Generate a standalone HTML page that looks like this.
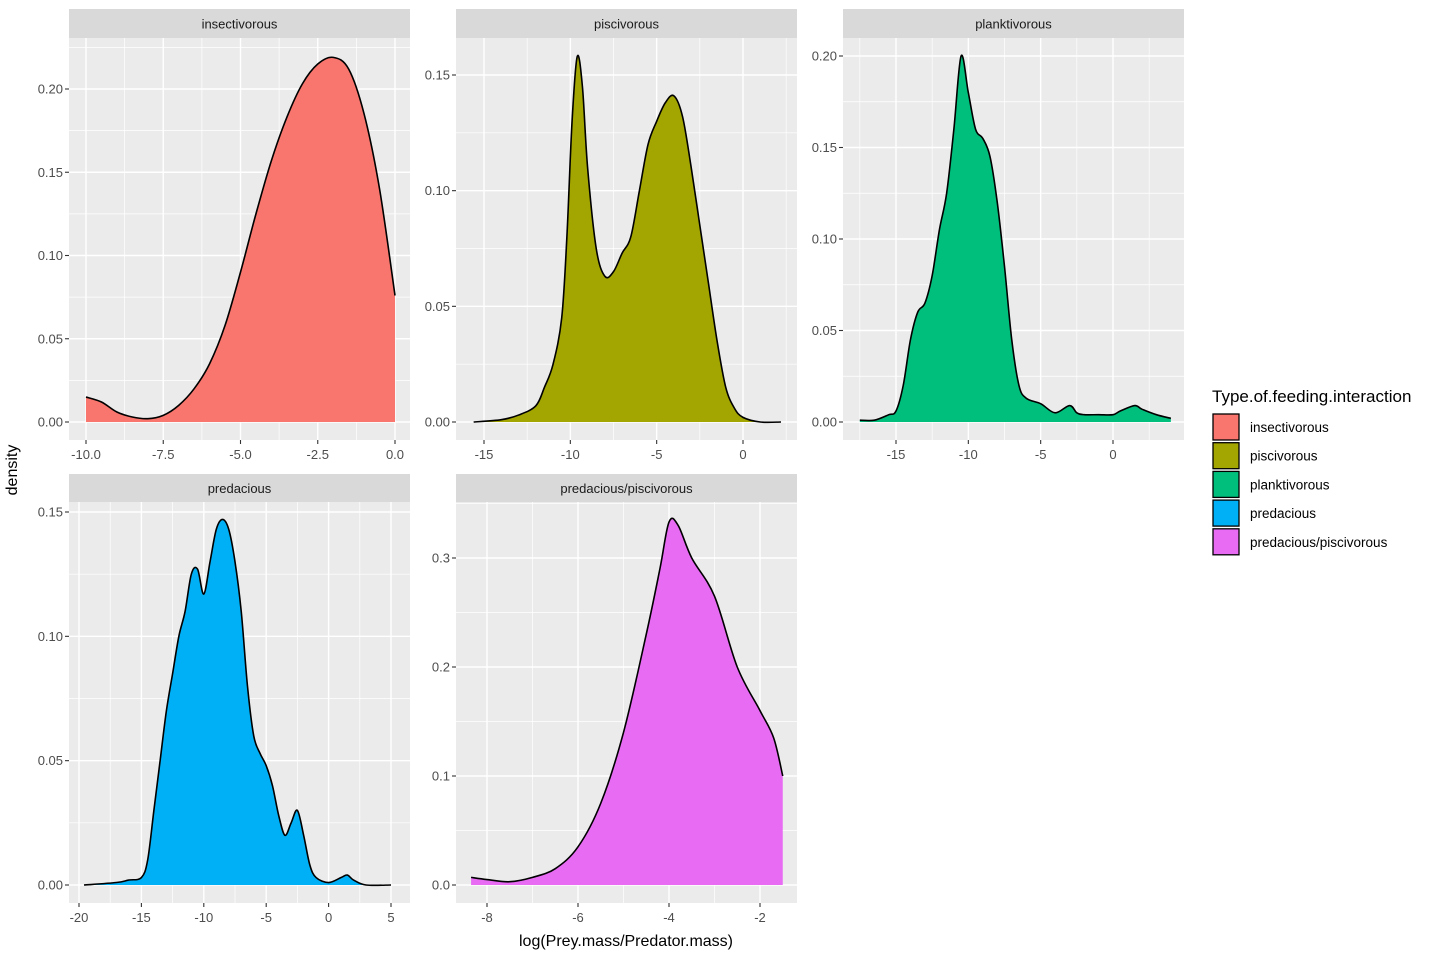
<!DOCTYPE html>
<html><head><meta charset="utf-8">
<style>
body{margin:0;background:#fff;font-family:"Liberation Sans",sans-serif;}
svg text{font-family:"Liberation Sans",sans-serif;}
</style></head>
<body>
<svg id="chart" width="1440" height="960" xmlns="http://www.w3.org/2000/svg">
<text x="17" y="470" font-size="16" fill="#000" text-anchor="middle" transform="rotate(-90 17 470)">density</text>
<text x="626" y="946" font-size="16" fill="#000" text-anchor="middle">log(Prey.mass/Predator.mass)</text>
</svg>
<script>
const categories=["insectivorous","piscivorous","planktivorous","predacious","predacious/piscivorous"];
const colors=["#F8766D","#A3A500","#00BF7D","#00B0F6","#E76BF3"];
const xs1=[-10,-9.5,-9,-8.5,-8,-7.5,-7,-6.5,-6,-5.5,-5,-4.5,-4,-3.5,-3,-2.5,-2,-1.5,-1,-0.5,0];
const ys1=[0.015,0.012,0.006,0.003,0.002,0.004,0.01,0.02,0.035,0.058,0.09,0.125,0.157,0.183,0.203,0.215,0.219,0.212,0.185,0.14,0.076];
const xs2=[-15.6,-14,-13,-12,-11.5,-11,-10.5,-10.2,-9.9,-9.6,-9.3,-9,-8.5,-8,-7.5,-7,-6.5,-6,-5.5,-5,-4.5,-4,-3.5,-3,-2.5,-2,-1.5,-1,-0.5,0,1,2.2];
const ys2=[0,0.001,0.003,0.007,0.015,0.025,0.045,0.08,0.13,0.158,0.145,0.11,0.075,0.063,0.065,0.073,0.08,0.1,0.12,0.13,0.138,0.141,0.132,0.11,0.085,0.06,0.035,0.015,0.006,0.002,0,0];
const xs3=[-17.5,-16.5,-15.5,-15,-14.5,-14,-13.5,-13,-12.5,-12,-11.5,-11,-10.5,-10,-9.5,-9,-8.5,-8,-7.5,-7,-6.5,-6,-5,-4,-3,-2.5,-2,-1,0,0.5,1.5,2,3,4];
const ys3=[0.001,0.001,0.004,0.006,0.02,0.045,0.06,0.065,0.08,0.105,0.125,0.16,0.2,0.18,0.16,0.155,0.145,0.12,0.085,0.045,0.02,0.013,0.01,0.005,0.009,0.005,0.004,0.004,0.004,0.006,0.009,0.007,0.004,0.002];
const xs4=[-19.6,-17,-16,-15,-14.5,-14,-13.5,-13,-12.5,-12,-11.5,-11,-10.5,-10,-9.5,-9,-8.5,-8,-7.5,-7,-6.5,-6,-5.5,-5,-4.5,-4,-3.5,-3,-2.5,-2,-1.5,-1,0,1,1.5,2,3,5];
const ys4=[0,0.001,0.002,0.003,0.01,0.03,0.05,0.07,0.085,0.1,0.11,0.125,0.127,0.117,0.13,0.143,0.147,0.143,0.13,0.11,0.08,0.06,0.053,0.048,0.04,0.028,0.02,0.025,0.03,0.02,0.008,0.003,0.001,0.003,0.004,0.002,0,0];
const xs5=[-8.35,-8,-7.5,-7,-6.5,-6,-5.5,-5,-4.5,-4.2,-4,-3.8,-3.5,-3,-2.5,-2,-1.7,-1.5];
const ys5=[0.007,0.005,0.003,0.007,0.015,0.035,0.075,0.14,0.23,0.29,0.333,0.33,0.3,0.265,0.2,0.16,0.135,0.1];
const xticks=[[-10,-7.5,-5,-2.5,0],[-15,-10,-5,0],[-15,-10,-5,0],[-20,-15,-10,-5,0,5],[-8,-6,-4,-2]];
const xlabels=[["-10.0","-7.5","-5.0","-2.5","0.0"],["-15","-10","-5","0"],["-15","-10","-5","0"],["-20","-15","-10","-5","0","5"],["-8","-6","-4","-2"]];
const yticks=[[0,0.05,0.1,0.15,0.2],[0,0.05,0.1,0.15],[0,0.05,0.1,0.15,0.2],[0,0.05,0.1,0.15],[0,0.1,0.2,0.3]];
const ylabels=[["0.00","0.05","0.10","0.15","0.20"],["0.00","0.05","0.10","0.15"],["0.00","0.05","0.10","0.15","0.20"],["0.00","0.05","0.10","0.15"],["0.0","0.1","0.2","0.3"]];
const XS=[xs1,xs2,xs3,xs4,xs5], YS=[ys1,ys2,ys3,ys4,ys5];
// panel geometry: [left,right,stripTop,plotTop,plotBottom, xA,pxA,xB,pxB, yB,pyB]
const P=[
 [69,410,9,38,440,-10,86,0,395,0.2,89],
 [456,797,9,38,440,-15,484,0,743,0.15,75],
 [843,1184,9,38,440,-15,896,0,1113,0.2,56],
 [69,410,474,502,903,-20,79,5,391,0.15,512],
 [456,797,474,502,903,-8,487,-2,760,0.3,558]];
const svg=document.getElementById('chart');
const NS="http://www.w3.org/2000/svg";
function mk(t,a){const e=document.createElementNS(NS,t);for(const k in a)e.setAttribute(k,a[k]);svg.appendChild(e);return e;}
P.forEach((g,i)=>{
 const [L,R,ST,PT,PB,xa,pa,xb,pb,yb,pyb]=g;
 const y0=PB-18;
 const sx=v=>pa+(v-xa)*(pb-pa)/(xb-xa);
 const sy=v=>y0+(pyb-y0)*v/yb;
 const strip=mk('rect',{x:L,y:ST,width:R-L,height:PT-ST,fill:'#D9D9D9'});
 
 
 const st=mk('text',{x:(L+R)/2,y:(ST+PT)/2+5,'font-size':13,'text-anchor':'middle',fill:'#1A1A1A'});
 st.textContent=categories[i];
 
 
 const bg=mk('rect',{x:L,y:PT,width:R-L,height:PB-PT,fill:'#EBEBEB'});
 
 
 const xt=xticks[i], yt=yticks[i];
 const dx=xt[1]-xt[0], dy=yt[1]-yt[0];
 for(let k=-1;k<xt.length;k++){const v=xt[0]+dx*(k+0.5);const p=sx(v);if(p>L&&p<R)mk('line',{x1:p,x2:p,y1:PT,y2:PB,stroke:'#fff','stroke-width':0.7});}
 for(let k=-1;k<yt.length+1;k++){const v=yt[0]+dy*(k+0.5);const p=sy(v);if(p>PT&&p<PB)mk('line',{x1:L,x2:R,y1:p,y2:p,stroke:'#fff','stroke-width':0.7});}
 xt.forEach((v,k)=>{const p=sx(v);mk('line',{x1:p,x2:p,y1:PT,y2:PB,stroke:'#fff','stroke-width':1.4});
  mk('line',{x1:p,x2:p,y1:PB,y2:PB+4,stroke:'#333','stroke-width':1.1});
  const t=mk('text',{x:p,y:PB+19,'font-size':13,'text-anchor':'middle',fill:'#4D4D4D'});t.textContent=xlabels[i][k];
  
  });
 yt.forEach((v,k)=>{const p=sy(v);mk('line',{x1:L,x2:R,y1:p,y2:p,stroke:'#fff','stroke-width':1.4});
  mk('line',{x1:L-4,x2:L,y1:p,y2:p,stroke:'#333','stroke-width':1.1});
  const t=mk('text',{x:L-6,y:p+4.5,'font-size':13,'text-anchor':'end',fill:'#4D4D4D'});t.textContent=ylabels[i][k];
  
  });
 const xsA=XS[i], ysA=YS[i];
 const pts=xsA.map((x,k)=>[sx(x),sy(ysA[k])]);
 let d='M'+pts[0][0]+','+pts[0][1];
 for(let k=0;k<pts.length-1;k++){const p0=pts[Math.max(0,k-1)],p1=pts[k],p2=pts[k+1],p3=pts[Math.min(pts.length-1,k+2)];
  const c1=[p1[0]+(p2[0]-p0[0])/6,p1[1]+(p2[1]-p0[1])/6],c2=[p2[0]-(p3[0]-p1[0])/6,p2[1]-(p3[1]-p1[1])/6];
  d+=`C${c1[0]},${c1[1]} ${c2[0]},${c2[1]} ${p2[0]},${p2[1]}`;}
 const last=pts[pts.length-1], first=pts[0];
 const area=mk('path',{d:d+`L${last[0]},${y0}L${first[0]},${y0}Z`,fill:colors[i]});
 
 
 const line=mk('path',{d:d,fill:'none',stroke:'#000','stroke-width':1.6});
 
 
});
const lt=mk('text',{x:1212,y:402,'font-size':17,fill:'#000'});
lt.textContent='Type.of.feeding.interaction';


categories.forEach((c,i)=>{const y=414+i*28.7;
 const r=mk('rect',{x:1213,y:y,width:26,height:26,fill:colors[i],stroke:'#000','stroke-width':1.3});
 
 
 const t=mk('text',{x:1250,y:y+18,'font-size':13.5,fill:'#000'});t.textContent=c;
 
 });
</script>
</body></html>
